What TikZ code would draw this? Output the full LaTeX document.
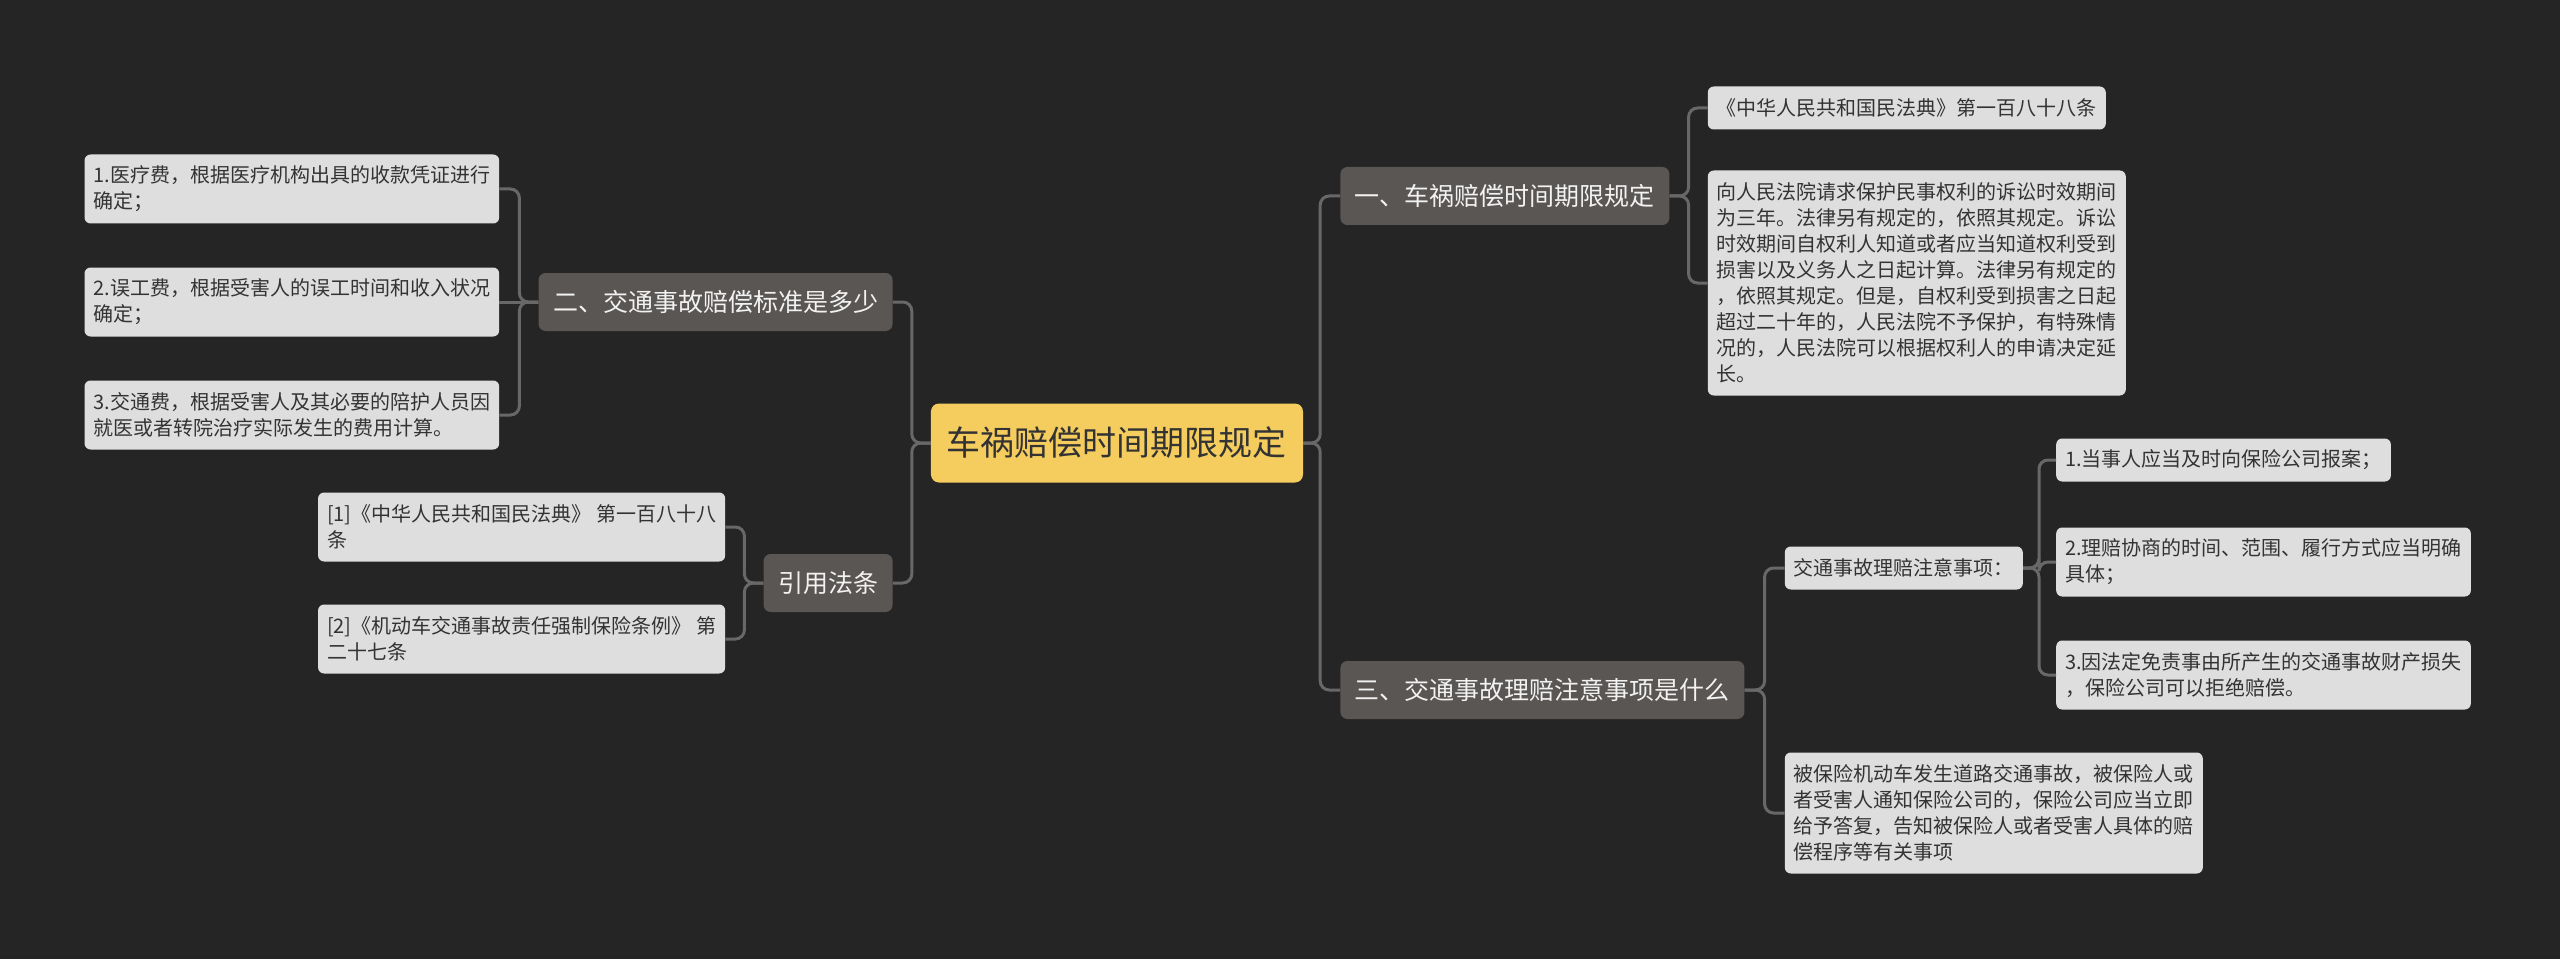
\documentclass[tikz,border=0pt]{standalone}
\usepackage{fontspec}
\setmainfont{Noto Sans CJK SC}
\usepackage{tikz}
\usetikzlibrary{positioning}
\definecolor{canvas}{HTML}{252525}
\definecolor{rootfill}{HTML}{F5CD5E}
\definecolor{topicfill}{HTML}{5A5654}
\definecolor{leaffill}{HTML}{DEDEDE}
\definecolor{linkgray}{HTML}{686868}
\definecolor{inkdark}{HTML}{333333}
\definecolor{inklight}{HTML}{F2F2F2}

\begin{document}
\begin{tikzpicture}[
  x=1pt, y=1pt,
  rootbox/.style={fill=rootfill, text=inkdark, rounded corners=8pt,
              minimum height=79pt, inner xsep=16pt,
              font=\fontsize{34}{40}\selectfont},
  topic/.style={fill=topicfill, text=inklight, rounded corners=7pt,
              minimum height=58pt, inner xsep=14.5pt,
              font=\fontsize{25}{30}\selectfont},
  leaf/.style={fill=leaffill, text=inkdark, rounded corners=6pt,
              align=left, inner xsep=9pt, inner ysep=4pt,
              minimum height={26pt*#1+17pt},
              font=\fontsize{20}{26}\selectfont},
  leaf/.default=1,
  link/.style={draw=linkgray, line width=3pt, rounded corners=9pt}
]

\path[use as bounding box, fill=canvas] (-1117,-516) rectangle (1443,443);

\node[rootbox] (main) {车祸赔偿时间期限规定};

% right branches
\node[topic, right=37pt of main, yshift=247pt] (limit)
  {一、车祸赔偿时间期限规定};
\node[topic, right=37pt of main, yshift=-247pt] (claims)
  {三、交通事故理赔注意事项是什么};

% left branches
\node[topic, left=38pt of main, yshift=141pt] (standard)
  {二、交通事故赔偿标准是多少};
\node[topic, left=38pt of main, yshift=-140pt] (cites)
  {引用法条};

% under limit
\node[leaf, right=38pt of limit, yshift=88pt] (limitlaw)
  {《中华人民共和国民法典》第一百八十八条};
\node[leaf=8, right=38pt of limit, yshift=-87pt] (limittext)
  {向人民法院请求保护民事权利的诉讼时效期间\\
   为三年。法律另有规定的，依照其规定。诉讼\\
   时效期间自权利人知道或者应当知道权利受到\\
   损害以及义务人之日起计算。法律另有规定的\\
   ，依照其规定。但是，自权利受到损害之日起\\
   超过二十年的，人民法院不予保护，有特殊情\\
   况的，人民法院可以根据权利人的申请决定延\\
   长。};

% under claims
\node[leaf, right=40pt of claims, yshift=122pt] (claimnote)
  {交通事故理赔注意事项：};
\node[leaf=4, right=40pt of claims, yshift=-123pt] (claimreply)
  {被保险机动车发生道路交通事故，被保险人或\\
   者受害人通知保险公司的，保险公司应当立即\\
   给予答复，告知被保险人或者受害人具体的赔\\
   偿程序等有关事项};
\node[leaf, right=33pt of claimnote, yshift=108pt] (note1)
  {1.当事人应当及时向保险公司报案；};
\node[leaf=2, right=33pt of claimnote, yshift=6pt] (note2)
  {2.理赔协商的时间、范围、履行方式应当明确\\
   具体；};
\node[leaf=2, right=33pt of claimnote, yshift=-107pt] (note3)
  {3.因法定免责事由所产生的交通事故财产损失\\
   ，保险公司可以拒绝赔偿。};

% under standard
\node[leaf=2, left=39pt of standard, yshift=113pt] (std1)
  {1.医疗费，根据医疗机构出具的收款凭证进行\\
   确定；};
\node[leaf=2, left=39pt of standard] (std2)
  {2.误工费，根据受害人的误工时间和收入状况\\
   确定；};
\node[leaf=2, left=39pt of standard, yshift=-113pt] (std3)
  {3.交通费，根据受害人及其必要的陪护人员因\\
   就医或者转院治疗实际发生的费用计算。};

% under cites
\node[leaf=2, left=38pt of cites, yshift=56pt] (cite1)
  {[1]《中华人民共和国民法典》 第一百八十八\\
   条};
\node[leaf=2, left=38pt of cites, yshift=-56pt] (cite2)
  {[2]《机动车交通事故责任强制保险条例》 第\\
   二十七条};

% connectors
\draw[link] (main.east) -- ++(17,0) |- (limit.west);
\draw[link] (main.east) -- ++(17,0) |- (claims.west);
\draw[link] (main.west) -- ++(-19,0) |- (standard.east);
\draw[link] (main.west) -- ++(-19,0) |- (cites.east);

\draw[link] (limit.east) -- ++(19,0) |- (limitlaw.west);
\draw[link] (limit.east) -- ++(19,0) |- (limittext.west);

\draw[link] (claims.east) -- ++(20,0) |- (claimnote.west);
\draw[link] (claims.east) -- ++(20,0) |- (claimreply.west);
\draw[link] (claimnote.east) -- ++(16,0) |- (note1.west);
\draw[link] (claimnote.east) -- ++(16,0) |- (note2.west);
\draw[link] (claimnote.east) -- ++(16,0) |- (note3.west);

\draw[link] (standard.west) -- ++(-19,0) |- (std1.east);
\draw[link] (standard.west) -- (std2.east);
\draw[link] (standard.west) -- ++(-19,0) |- (std3.east);

\draw[link] (cites.west) -- ++(-19,0) |- (cite1.east);
\draw[link] (cites.west) -- ++(-19,0) |- (cite2.east);

\end{tikzpicture}
\end{document}
